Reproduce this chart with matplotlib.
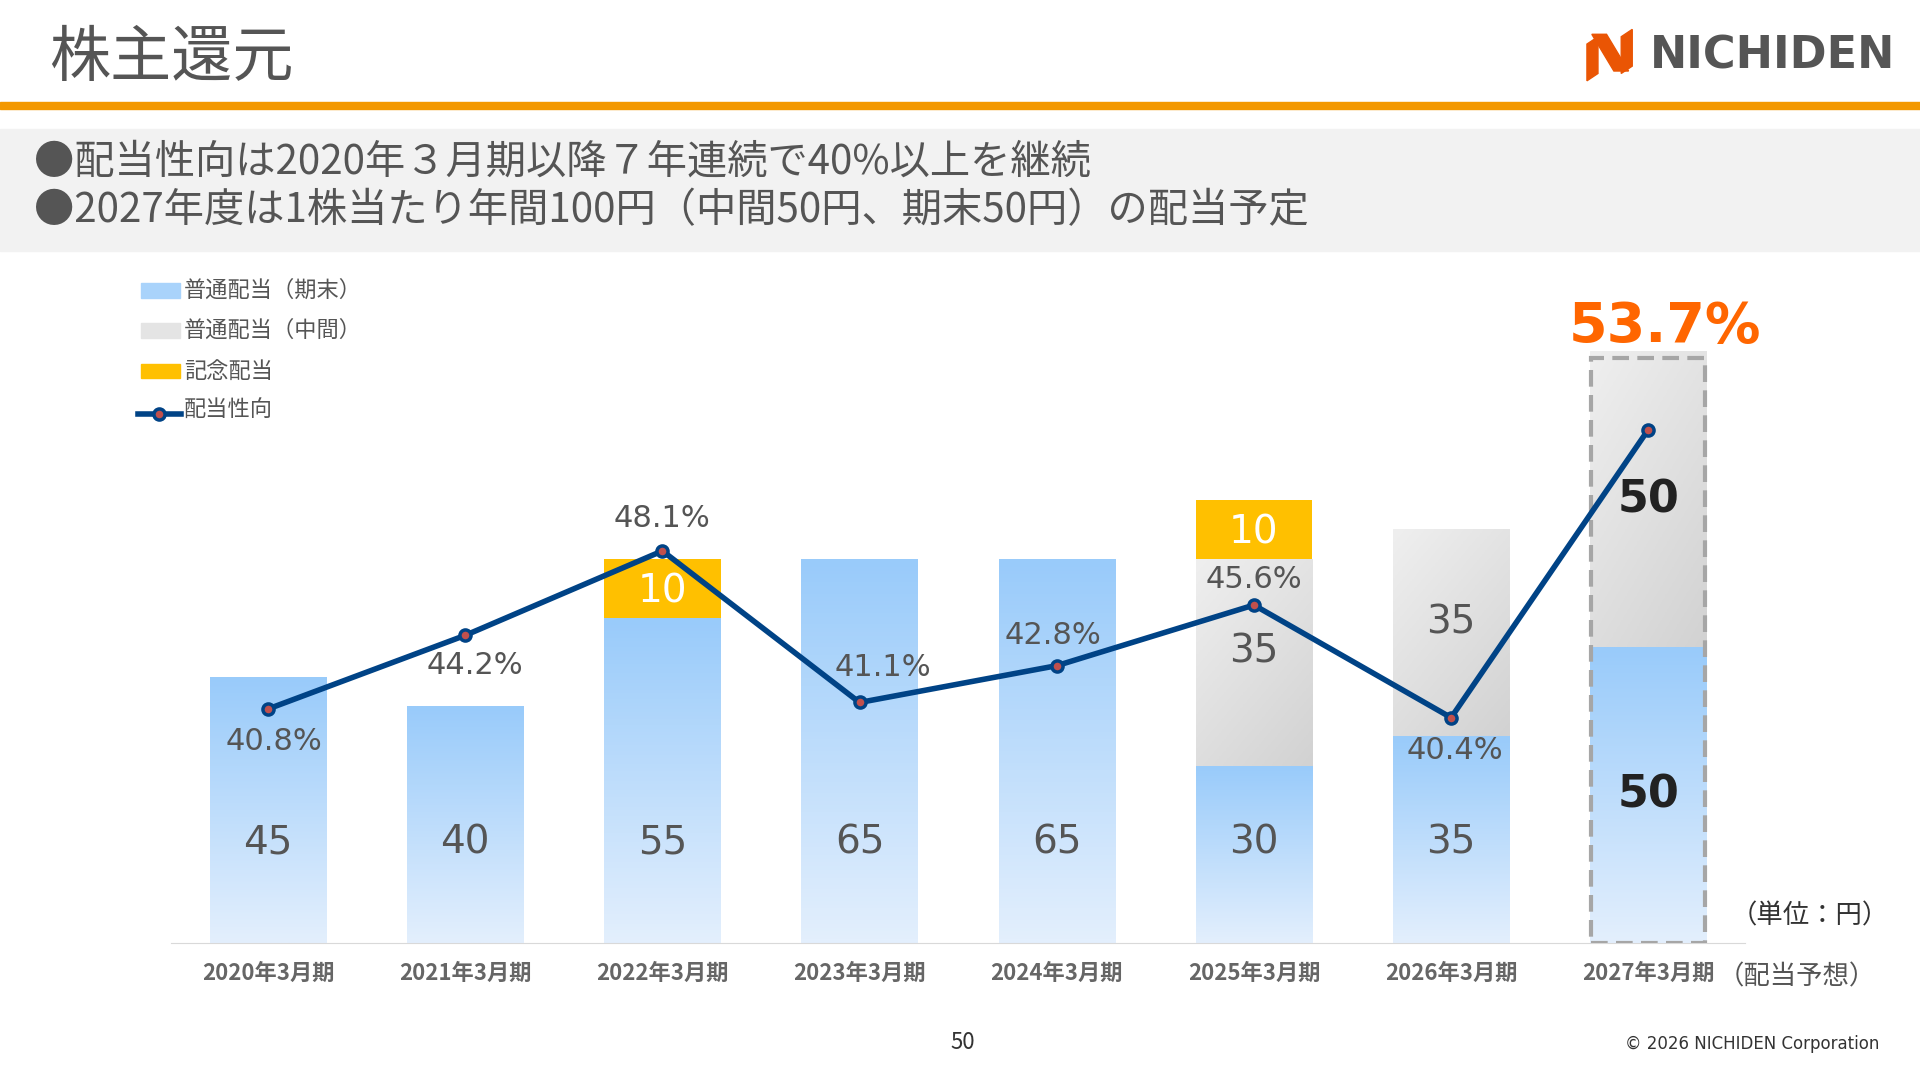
import numpy as np
import matplotlib.pyplot as plt
from matplotlib.patches import Rectangle, Polygon
from matplotlib.colors import LinearSegmentedColormap

plt.rcParams['font.family'] = ['Noto Sans CJK JP', 'DejaVu Sans']

# データ
years = ['2020年3月期', '2021年3月期', '2022年3月期', '2023年3月期',
         '2024年3月期', '2025年3月期', '2026年3月期', '2027年3月期']
kimatsu = [45, 40, 55, 65, 65, 30, 35, 50]    # 普通配当（期末）
chukan = [0, 0, 0, 0, 0, 35, 35, 50]          # 普通配当（中間）
kinen = [0, 0, 10, 0, 0, 10, 0, 0]            # 記念配当
seikou = [40.8, 44.2, 48.1, 41.1, 42.8, 45.6, 40.4, 53.7]  # 配当性向 %

W, H = 1568, 882
def fx(x): return x / W
def fy(y): return 1 - y / H

fig = plt.figure(figsize=(19.2, 10.8), dpi=100)
fig.patch.set_facecolor('white')

# ヘッダー
fig.text(fx(40), fy(48), '株主還元', fontsize=44, color='#555555', va='center')
fig.add_artist(Rectangle((0, fy(89)), 1, 6 / H, transform=fig.transFigure, color='#F39800'))
fig.add_artist(Rectangle((0, fy(205)), 1, 100 / H, transform=fig.transFigure, color='#F2F2F2'))
fig.text(fx(28), fy(132), '●配当性向は2020年３月期以降７年連続で40%以上を継続', fontsize=29, color='#555555', va='center')
fig.text(fx(28), fy(172), '●2027年度は1株当たり年間100円（中間50円、期末50円）の配当予定', fontsize=29, color='#555555', va='center')

# ロゴ
fig.text(fx(1548), fy(46), 'NICHIDEN', fontsize=32, fontweight='bold', color='#555555',
         ha='right', va='center', family=['DejaVu Sans'])
logo1 = [(1296, 36), (1305, 30), (1305, 60), (1296, 66)]
logo2 = [(1300, 28), (1312, 28), (1330, 58), (1318, 58)]
logo3 = [(1324, 30), (1333, 24), (1333, 54), (1324, 60)]
for pts in (logo1, logo2, logo3):
    fig.add_artist(Polygon([(fx(a), fy(b)) for a, b in pts], transform=fig.transFigure,
                           color='#EA5504'))

# グラフ
ax = fig.add_axes([fx(140), fy(770), fx(1425) - fx(140), (770 - 220) / H])
x = np.arange(len(years))
w = 0.59

blue = LinearSegmentedColormap.from_list('b', ['#E3EFFD', '#99CBFA'])
grey = LinearSegmentedColormap.from_list('g', ['#EFEFEF', '#D2D2D2'])
grad = np.linspace(0, 1, 100).reshape(-1, 1)

for i in x:
    ax.imshow(grad, cmap=blue, origin='lower', aspect='auto',
              extent=(i - w / 2, i + w / 2, 0, kimatsu[i]), zorder=1)
    if chukan[i]:
        g2 = np.linspace(1, 0, 100).reshape(-1, 1) * 0.6 + np.linspace(0, 0.4, 50).reshape(1, -1)
        ax.imshow(g2, cmap=grey, origin='lower', aspect='auto',
                  extent=(i - w / 2, i + w / 2, kimatsu[i], kimatsu[i] + chukan[i]), zorder=1)
    if kinen[i]:
        ax.bar(i, kinen[i], w, bottom=kimatsu[i] + chukan[i], color='#FFC000', zorder=1)
ax.set_xlim(-0.49, 7.49)
ax.set_ylim(0, 114)

# 値ラベル
for i in x:
    big = i == 7
    kw = dict(ha='center', va='center', fontsize=32 if big else 28,
              color='#222222' if big else '#555555', fontweight='bold' if big else 'normal',
              family=['DejaVu Sans'], zorder=4)
    ax.text(i, kimatsu[i] / 2 if big else 17, str(kimatsu[i]), **kw)
    if chukan[i]:
        ax.text(i, kimatsu[i] + chukan[i] * (0.5 if big else 0.55), str(chukan[i]), **kw)
    if kinen[i]:
        ax.text(i, kimatsu[i] + chukan[i] + kinen[i] * 0.45, str(kinen[i]), ha='center', va='center',
                fontsize=28, color='white', family=['DejaVu Sans'], zorder=4)

ax.add_patch(Rectangle((7 - 0.29, 0), 0.58, 99, fill=False, ls=(0, (4, 2)), lw=3,
                       edgecolor='#A6A6A6', zorder=3))

ax.set_xticks(x)
ax.set_xticklabels(years, fontsize=16, fontweight='bold', color='#666666')
ax.tick_params(axis='x', length=0, pad=14)
ax.set_yticks([])
for s in ['top', 'right', 'left']:
    ax.spines[s].set_visible(False)
ax.spines['bottom'].set_color('#D9D9D9')

# 配当性向
ax2 = ax.twinx()
ax2.set_ylim(30, 61.1)
ax2.plot(x, seikou, color='#004386', lw=4, marker='o', ms=8, mfc='#C0504D',
         mec='#004386', mew=2.5, zorder=5)
ax2.axis('off')
offs = [-1.5, -1.4, 1.5, 1.6, 1.4, 1.2, -1.5]
dx = [0.03, 0.05, 0.0, 0.12, -0.02, 0.0, 0.02]
for i in range(7):
    ax2.text(i + dx[i], seikou[i] + offs[i], f'{seikou[i]}%', ha='center', va='center',
             fontsize=22, color='#555555', family=['DejaVu Sans'], zorder=6)
fig.text(fx(1360), fy(267), '53.7%', fontsize=40, fontweight='bold', color='#FF6600',
         ha='center', va='center', family=['DejaVu Sans'])

# 凡例
leg = [('普通配当（期末）', '#A9D3FB'), ('普通配当（中間）', '#E4E4E4'), ('記念配当', '#FFC000')]
for k, (lab, c) in enumerate(leg):
    yy = 237 + 33 * k
    fig.add_artist(Rectangle((fx(115), fy(yy + 6)), fx(32), 12 / H, transform=fig.transFigure, color=c))
    fig.text(fx(150), fy(yy), lab, fontsize=16, color='#555555', va='center')
fig.add_artist(plt.Line2D([fx(113), fx(148)], [fy(338), fy(338)], transform=fig.transFigure,
                          color='#004386', lw=4))
fig.add_artist(plt.Line2D([fx(130)], [fy(338)], transform=fig.transFigure, marker='o', ms=8,
                          mfc='#C0504D', mec='#004386', mew=2.5))
fig.text(fx(150), fy(335), '配当性向', fontsize=16, color='#555555', va='center')

# 注記
fig.text(fx(1413), fy(748), '（単位：円）', fontsize=19, color='#333333', va='center')
fig.text(fx(1403), fy(798), '（配当予想）', fontsize=19, color='#555555', va='center')
fig.text(fx(786), fy(851), '50', fontsize=16, color='#333333', ha='center', va='center')
fig.text(fx(1535), fy(853), '© 2026 NICHIDEN Corporation', fontsize=12, color='#333333',
         ha='right', va='center', family=['DejaVu Sans'])

fig.savefig('out.png', dpi=100)
